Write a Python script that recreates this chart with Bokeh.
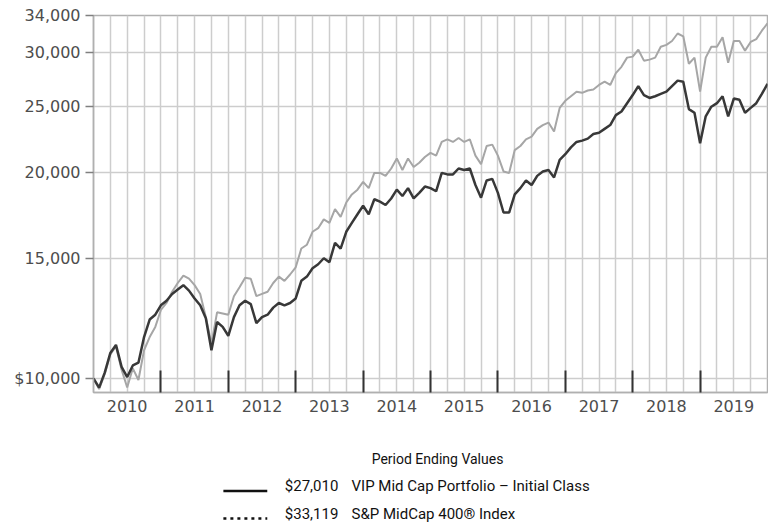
from bokeh.plotting import figure
from bokeh.models import Range1d, FixedTicker
from bokeh.layouts import column
from bokeh.embed import file_html
from bokeh.resources import INLINE
from bokeh.core.properties import value

# ---- data (month-end values of a $10,000 investment, Dec 2009 .. Dec 2019) ----
years = [2010, 2011, 2012, 2013, 2014, 2015, 2016, 2017, 2018, 2019]
vip_mid_cap = [
    10000, 9700, 10200, 10900, 11200, 10400, 10050, 10450, 10550, 11500, 12200, 12400, 12800,
    13000, 13300, 13500, 13700, 13450, 13100, 12800, 12250, 11000, 12100, 11900, 11550,
    12300, 12800, 13000, 12850, 12050, 12300, 12400, 12700, 12900, 12800, 12900, 13100,
    13900, 14100, 14500, 14700, 15000, 14800, 15800, 15500, 16400, 16900, 17400, 17900,
    17400, 18300, 18150, 17950, 18350, 18900, 18500, 19000, 18350, 18700, 19100, 19000,
    18800, 20000, 19900, 19900, 20300, 20200, 20300, 19200, 18400, 19500, 19600, 18700,
    17500, 17500, 18600, 19000, 19500, 19200, 19800, 20100, 20200, 19700, 20900, 21300,
    21800, 22200, 22300, 22450, 22800, 22900, 23200, 23500, 24300, 24600, 25300, 26000,
    26800, 26000, 25750, 25900, 26100, 26300, 26800, 27300, 27200, 24800, 24500, 22100,
    24200, 25000, 25300, 25900, 24200, 25700, 25600, 24500, 24900, 25300, 26100, 27010,
]
sp_midcap_400 = [
    10000, 9650, 10150, 10850, 11150, 10300, 9700, 10350, 9950, 11000, 11500, 11900, 12600,
    12900, 13400, 13800, 14150, 14000, 13700, 13300, 12300, 11250, 12500, 12450, 12400,
    13200, 13600, 14050, 14000, 13200, 13300, 13400, 13800, 14100, 13900, 14200, 14550,
    15500, 15700, 16400, 16600, 17100, 16900, 17700, 17250, 18100, 18600, 18900, 19400,
    19000, 20000, 20000, 19800, 20300, 21000, 20200, 21000, 20400, 20700, 21100, 21400,
    21200, 22200, 22400, 22200, 22500, 22200, 22400, 21200, 20600, 21900, 22000, 21200,
    20100, 20000, 21600, 21900, 22400, 22600, 23200, 23500, 23700, 23000, 24900, 25500,
    25900, 26300, 26200, 26400, 26500, 26900, 27200, 26900, 28000, 28600, 29500, 29600,
    30300, 29200, 29300, 29500, 30600, 30800, 31200, 32000, 31700, 28900, 29500, 26300,
    29500, 30600, 30600, 31600, 29000, 31200, 31200, 30200, 31100, 31400, 32300, 33119,
]
y_ticks = [10000, 15000, 20000, 25000, 30000, 34000]
y_tick_labels = ["$10,000", "15,000", "20,000", "25,000", "30,000", "34,000"]
series_names = ["VIP Mid Cap Portfolio \u2013 Initial Class", "S&P MidCap 400\u00ae Index"]
legend_title = "Period Ending Values"

# month-end positions in fractional years
months_x = [years[0] + i / 12 for i in range(len(vip_mid_cap))]

AXIS_FONT = "DejaVu Sans"
LEG_FONT = "Roboto"

p = figure(width=768, height=420, y_axis_type="log",
           x_range=Range1d(years[0], years[-1] + 1), y_range=Range1d(9540, 34000),
           output_backend="svg", toolbar_location=None,
           min_border_left=93, min_border_right=1, min_border_top=15, min_border_bottom=28)
p.outline_line_color = "#b0b0b0"
p.outline_line_width = 1.5

p.line(months_x, sp_midcap_400, line_color="#a6a6a6", line_width=2)
p.line(months_x, vip_mid_cap, line_color="#383838", line_width=2.5)

# x axis: labels centred on each year, dark year-boundary ticks inside
mid = [y + 0.5 for y in years]
p.xaxis.ticker = FixedTicker(ticks=mid, minor_ticks=years[1:])
p.xaxis.major_label_overrides = {m: str(y) for m, y in zip(mid, years)}
p.xaxis.major_tick_in = 0
p.xaxis.major_tick_out = 0
p.xaxis.minor_tick_in = 22
p.xaxis.minor_tick_out = 0
p.xaxis.minor_tick_line_color = "#333333"
p.xaxis.minor_tick_line_width = 2
p.xaxis.axis_line_color = "#b0b0b0"
p.xaxis.axis_line_width = 1.5
p.xaxis.major_label_standoff = 7
p.xaxis.major_label_text_font = AXIS_FONT
p.xaxis.major_label_text_font_size = "16px"
p.xaxis.major_label_text_color = "#4d4d4d"

quarters = [years[0] + q / 4 for q in range(4 * len(years) + 1)]
p.xgrid.ticker = FixedTicker(ticks=quarters)
p.xgrid.grid_line_color = "#cdcdcd"
p.xgrid.grid_line_width = 1.5

# y axis (log)
p.yaxis.ticker = FixedTicker(ticks=y_ticks, minor_ticks=[])
p.yaxis.major_label_overrides = {t: l for t, l in zip(y_ticks, y_tick_labels)}
p.yaxis.major_tick_out = 8
p.yaxis.major_tick_in = 0
p.yaxis.major_tick_line_color = "#808080"
p.yaxis.major_tick_line_width = 1.5
p.yaxis.minor_tick_line_color = None
p.yaxis.axis_line_color = "#b0b0b0"
p.yaxis.axis_line_width = 1.5
p.yaxis.major_label_standoff = 5
p.yaxis.major_label_text_font = AXIS_FONT
p.yaxis.major_label_text_font_size = "16px"
p.yaxis.major_label_text_color = "#4d4d4d"
p.ygrid.ticker = FixedTicker(ticks=y_ticks)
p.ygrid.grid_line_color = "#cdcdcd"
p.ygrid.grid_line_width = 1.5

# legend block below the chart (page y = 420 + local y)
lg = figure(width=768, height=108, x_range=Range1d(0, 768), y_range=Range1d(108, 0),
            output_backend="svg", toolbar_location=None, min_border=0,
            x_axis_type=None, y_axis_type=None)
lg.outline_line_color = None
lg.grid.visible = False

lg.text(x=[392], y=[38], text=[legend_title], text_font=value(LEG_FONT),
        text_font_size="14px", text_align="center", text_baseline="middle",
        text_color="#111111")
end_vals = ["${:,.0f}".format(vip_mid_cap[-1]), "${:,.0f}".format(sp_midcap_400[-1])]
lg.text(x=[218, 218], y=[65, 93], text=end_vals, text_font=value(LEG_FONT),
        text_font_size="15px", text_align="left", text_baseline="middle",
        text_color="#111111")
lg.text(x=[294, 294], y=[65, 93], text=series_names, text_font=value(LEG_FONT),
        text_font_size="15px", text_align="left", text_baseline="middle",
        text_color="#111111")
lg.line([148, 198], [70.5, 70.5], line_color="#111111", line_width=2.5)
lg.line([148, 198], [98, 98], line_color="#111111", line_width=2.5, line_dash="3 4")

layout = column(p, lg, spacing=0)
open("out.html", "w").write(file_html(layout, INLINE))
